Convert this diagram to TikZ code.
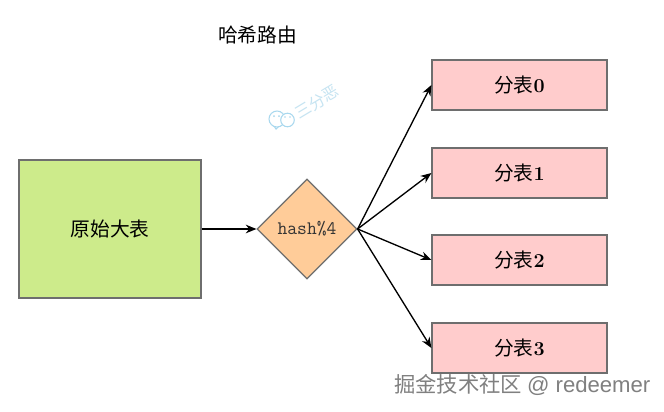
\documentclass[tikz,border=0pt]{standalone}
\usepackage{fontspec}
\usetikzlibrary{shapes.geometric,arrows.meta}
\newfontfamily\cjk{Noto Sans CJK SC}
\newfontfamily\wmlatin{Liberation Sans}
\definecolor{boxgreen}{HTML}{CDEB8B}
\definecolor{boxorange}{HTML}{FFCC99}
\definecolor{boxpink}{HTML}{FFCCCC}
\definecolor{edgegray}{HTML}{6E6E6E}
\definecolor{wmblue}{HTML}{A9D8EE}
\definecolor{wmtext}{HTML}{C6E4F2}
\newcommand{\px}[1]{\fontsize{#1}{#1}\selectfont}
\tikzset{
  x=0.75pt,y=-0.75pt,
  shapebox/.style={draw=edgegray,line width=0.9pt,inner sep=0pt,align=center,text=black},
  greenbox/.style={shapebox,rectangle,fill=boxgreen,minimum width=136.5pt,minimum height=103.5pt},
  pinkbox/.style={shapebox,rectangle,fill=boxpink,minimum width=131.25pt,minimum height=37.5pt},
  hashdiamond/.style={shapebox,diamond,fill=boxorange,minimum width=75pt,minimum height=75pt},
  link/.style={draw=black,line width=1pt,-{Stealth[length=8pt,width=6.5pt]}},
  label/.style={font=\cjk\px{14.8}},
}
\begin{document}
\begin{tikzpicture}
\useasboundingbox (0,0) rectangle (664,411);
\fill[white] (0,0) rectangle (664,411);
\node[label] (title) at (257.5,35) {哈希路由};
\node[greenbox,label] (src) at (110,229) {原始大表};
\node[hashdiamond,font=\ttfamily\px{14.3},text=black!80] (hash) at (307,229) {hash\%4};
\node[pinkbox,label] (t0) at (519.5,85) {分表{\rmfamily\bfseries 0}};
\node[pinkbox,label] (t1) at (519.5,173) {分表{\rmfamily\bfseries 1}};
\node[pinkbox,label] (t2) at (519.5,260) {分表{\rmfamily\bfseries 2}};
\node[pinkbox,label] (t3) at (519.5,348) {分表{\rmfamily\bfseries 3}};
\draw[link] (src.east) -- (hash.west);
\draw[link] (hash.east) -- (t0.west);
\draw[link] (hash.east) -- (t1.west);
\draw[link] (hash.east) -- (t2.west);
\draw[link] (hash.east) -- (t3.west);
% faint logo watermark
\draw[wmblue,line width=0.8pt,fill=white] (274,126) -- (276,129) -- (279,126) -- cycle;
\draw[wmblue,line width=0.8pt,fill=white] (277,119) circle (8);
\draw[wmblue,line width=0.8pt,fill=white] (287.5,120) circle (6.8);
\fill[wmblue] (274,116) circle (1) (279,116) circle (1) (285,117) circle (0.9) (290,117) circle (0.9);
\node[text=wmtext,rotate=31,font=\cjk\px{12},inner sep=0pt] (wm) at (317,102) {三分恶};
\node[text=black!50,font=\cjk\px{16},inner sep=0pt,anchor=west] (site) at (394,385) {掘金技术社区 {\wmlatin\px{16.6}@ redeemer}};
\end{tikzpicture}
\end{document}
